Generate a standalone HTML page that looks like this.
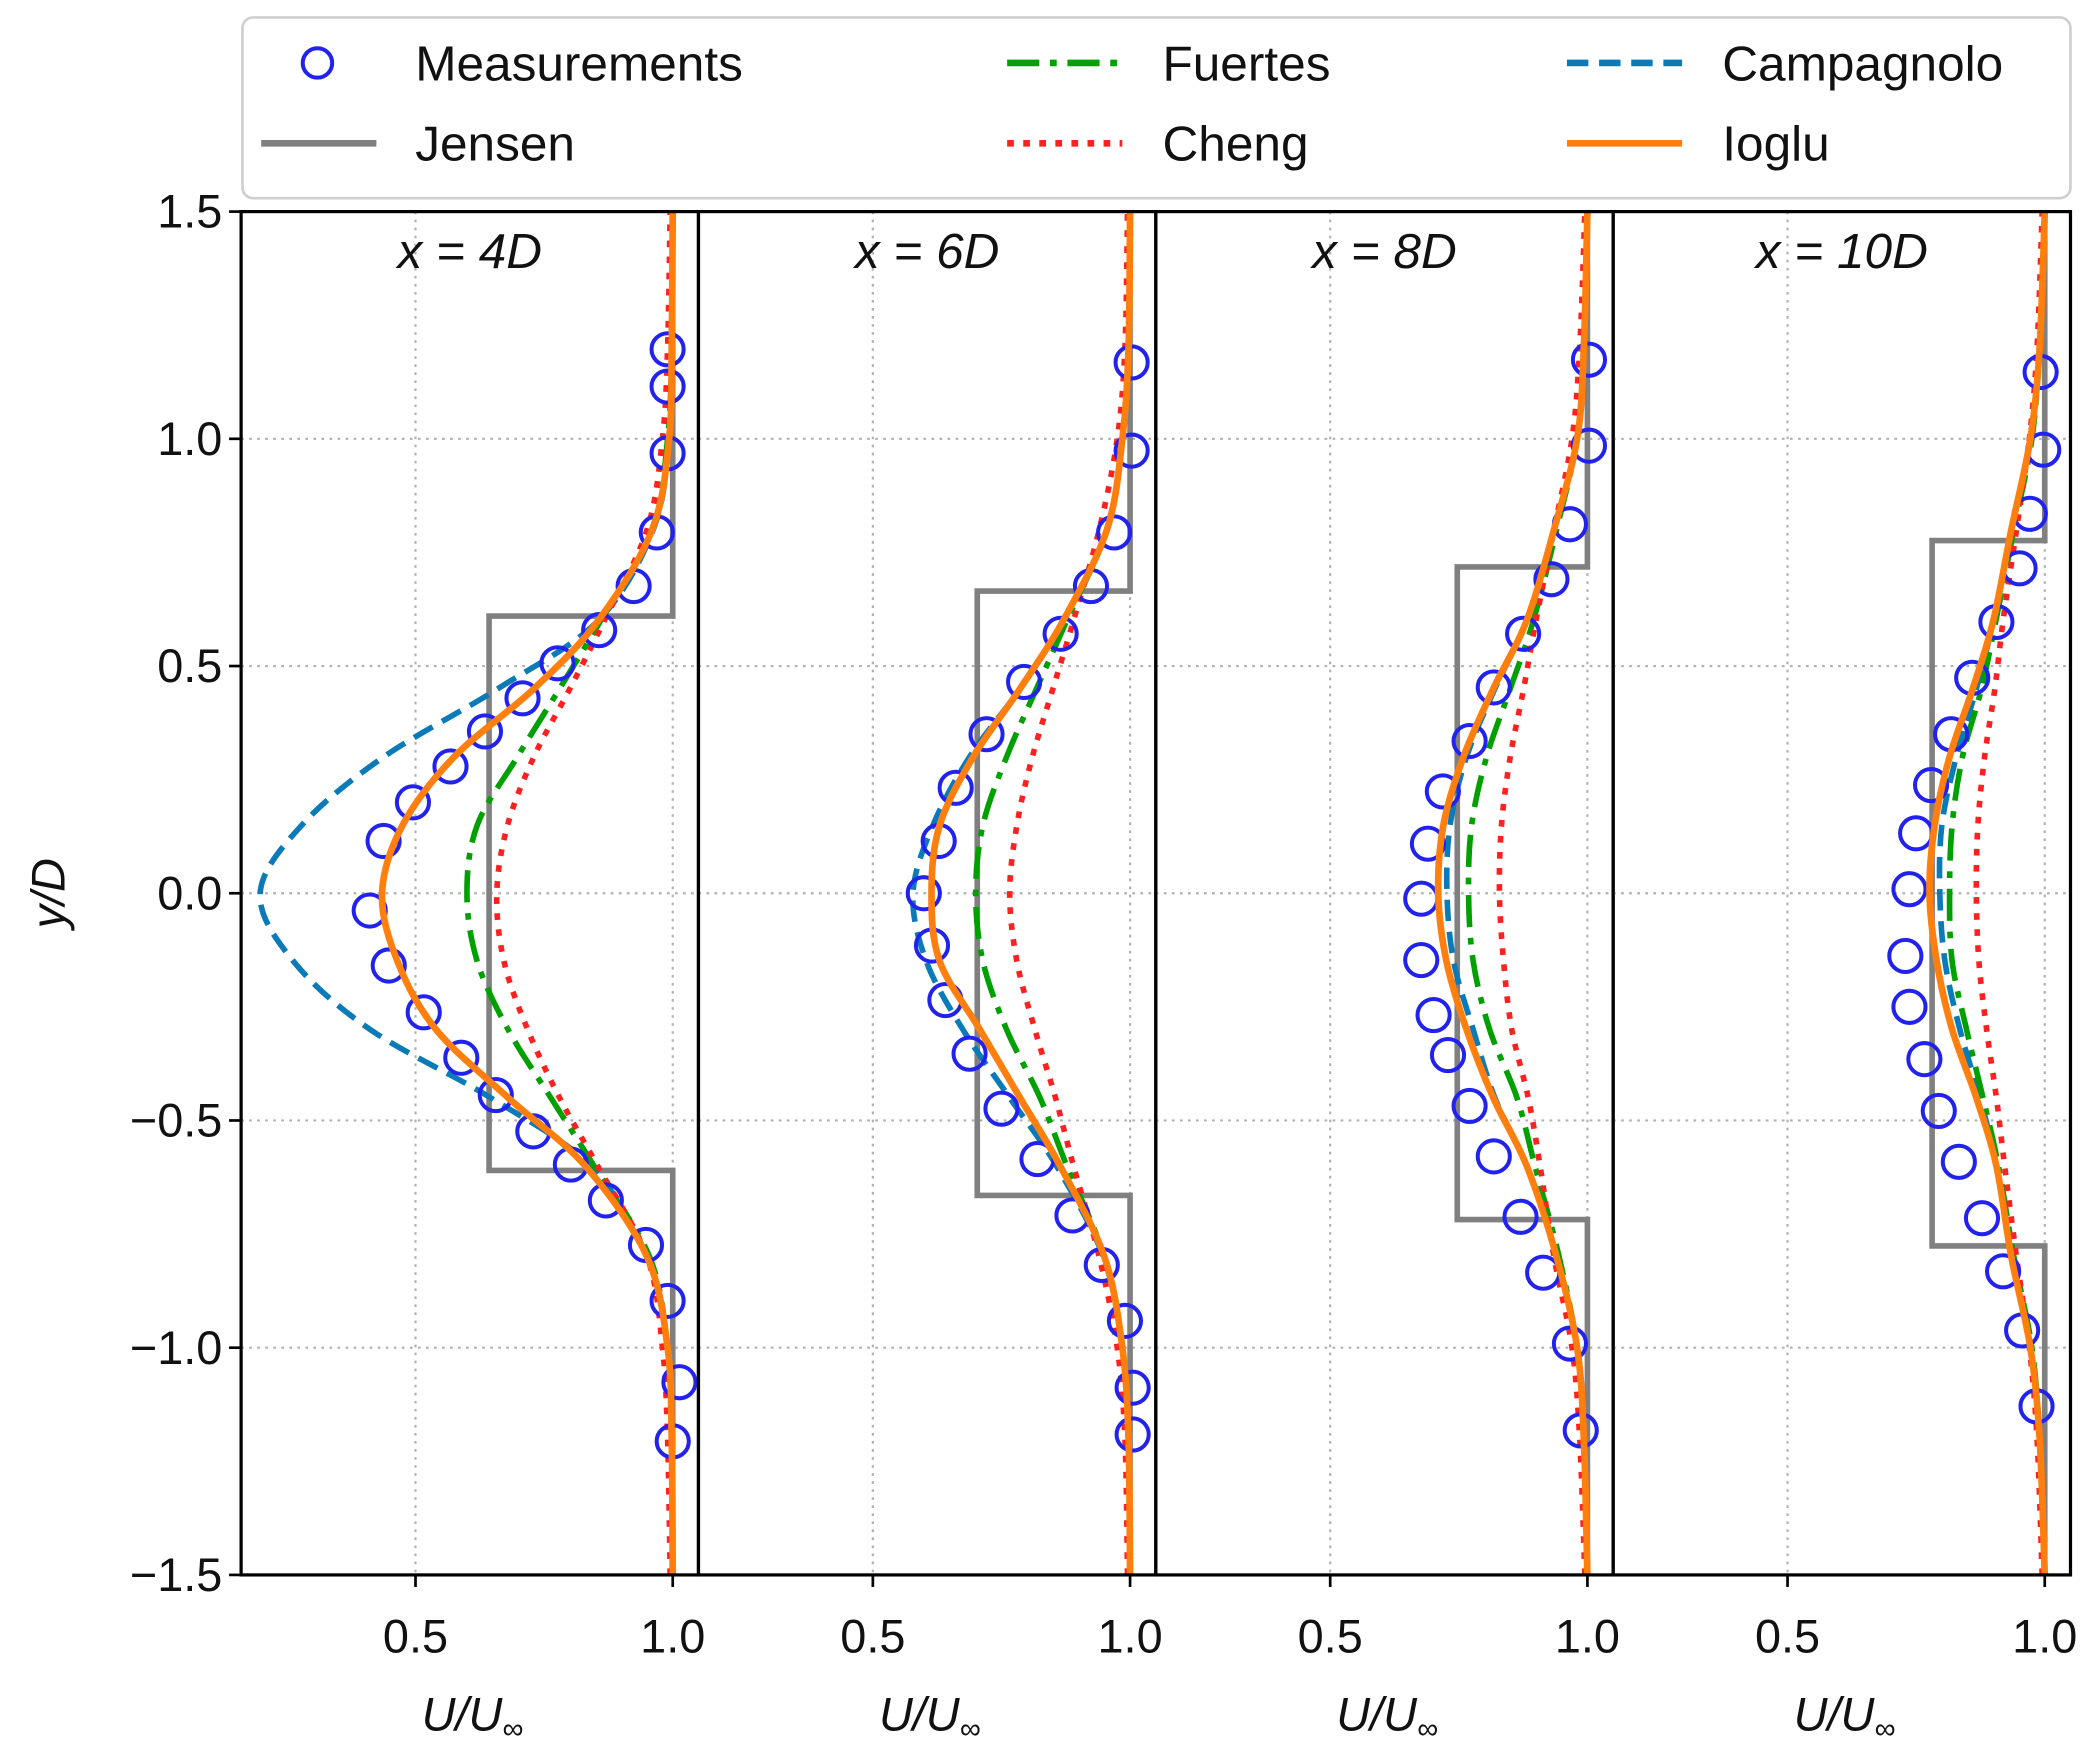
<!DOCTYPE html>
<html><head><meta charset="utf-8"><style>
html,body{margin:0;padding:0;background:#fff}
svg{display:block}
text{font-family:"Liberation Sans","DejaVu Sans",sans-serif;fill:#111}
</style></head><body>
<svg id="chart" width="2100" height="1760" viewBox="0 0 1568 1314.2" xmlns="http://www.w3.org/2000/svg"></svg>
<script>
const NS="http://www.w3.org/2000/svg";
const panelTitles=["4D","6D","8D","10D"];
const yGrid=[-1.5,-1.2,-1.0,-0.8,-0.6,-0.45,-0.3,-0.15,0,0.15,0.3,0.45,0.6,0.8,1.0,1.2,1.5];
const xTicks=[0.5,1.0];
const xTickLabels=["0.5","1.0"];
const yTicks=[-1.5,-1.0,-0.5,0.0,0.5,1.0,1.5];
const yTickLabels=["\u22121.5","\u22121.0","\u22120.5","0.0","0.5","1.0","1.5"];
const yGridLines=[-1.0,-0.5,0,0.5,1.0];
const loglu=[
[1.0,0.998,0.99,0.95,0.83,0.68,0.54,0.465,0.435,0.475,0.575,0.73,0.855,0.96,0.993,0.998,1.0],
[1.0,0.997,0.985,0.95,0.864,0.786,0.708,0.63,0.614,0.63,0.695,0.786,0.87,0.955,0.985,0.997,1.0],
[1.0,0.993,0.98,0.94,0.882,0.817,0.765,0.726,0.71,0.72,0.759,0.817,0.882,0.935,0.98,0.993,1.0],
[1.0,0.99,0.972,0.935,0.906,0.867,0.82,0.79,0.776,0.786,0.815,0.86,0.9,0.935,0.972,0.99,1.0]];
const campagnolo=[
[1.0,0.998,0.99,0.95,0.84,0.646,0.412,0.263,0.198,0.279,0.438,0.66,0.855,0.962,0.993,0.998,1.0],
[1.0,0.997,0.985,0.948,0.857,0.766,0.675,0.604,0.578,0.617,0.688,0.786,0.87,0.955,0.985,0.997,1.0],
[1.0,0.993,0.98,0.94,0.882,0.82,0.778,0.74,0.727,0.733,0.765,0.82,0.882,0.935,0.98,0.993,1.0],
[1.0,0.99,0.972,0.935,0.906,0.874,0.835,0.806,0.796,0.80,0.828,0.867,0.9,0.935,0.972,0.99,1.0]];
const fuertes=[
[1.0,0.998,0.99,0.955,0.847,0.763,0.68,0.62,0.60,0.62,0.698,0.78,0.86,0.96,0.99,0.998,1.0],
[1.0,0.997,0.985,0.95,0.877,0.825,0.76,0.714,0.70,0.714,0.76,0.818,0.877,0.955,0.985,0.997,1.0],
[1.0,0.993,0.98,0.945,0.898,0.863,0.81,0.778,0.769,0.775,0.804,0.85,0.895,0.94,0.98,0.993,1.0],
[1.0,0.99,0.975,0.94,0.91,0.88,0.848,0.82,0.815,0.82,0.84,0.877,0.905,0.94,0.975,0.99,1.0]];
const cheng=[
[0.995,0.99,0.98,0.95,0.854,0.78,0.718,0.672,0.658,0.679,0.73,0.80,0.867,0.95,0.98,0.99,0.995],
[0.995,0.99,0.975,0.94,0.89,0.855,0.815,0.78,0.766,0.78,0.81,0.85,0.89,0.94,0.975,0.99,0.995],
[0.995,0.985,0.97,0.935,0.908,0.885,0.853,0.837,0.829,0.833,0.85,0.876,0.90,0.935,0.97,0.985,0.995],
[0.995,0.985,0.97,0.945,0.922,0.906,0.887,0.872,0.867,0.87,0.883,0.903,0.919,0.945,0.97,0.985,0.995]];
const jensenDeficitU=[0.643,0.703,0.747,0.781];
const jensenHalfWidth=[0.61,0.665,0.718,0.776];
const measU=[
[0.99,0.99,0.99,0.969,0.924,0.857,0.776,0.708,0.635,0.568,0.495,0.438,0.411,0.448,0.516,0.589,0.656,0.729,0.802,0.870,0.948,0.990,1.013,1.0],
[1.003,1.003,0.969,0.924,0.865,0.794,0.721,0.661,0.628,0.599,0.615,0.641,0.688,0.750,0.820,0.888,0.945,0.990,1.005,1.005],
[1.003,1.003,0.966,0.930,0.875,0.818,0.771,0.719,0.690,0.677,0.677,0.701,0.729,0.771,0.818,0.870,0.914,0.966,0.987],
[0.992,0.997,0.971,0.951,0.906,0.859,0.818,0.779,0.750,0.737,0.729,0.737,0.766,0.794,0.833,0.878,0.919,0.956,0.984]];
const measY=[
[1.197,1.115,0.968,0.794,0.676,0.579,0.506,0.429,0.356,0.279,0.200,0.115,-0.038,-0.159,-0.262,-0.362,-0.444,-0.524,-0.597,-0.676,-0.774,-0.897,-1.076,-1.206],
[1.168,0.974,0.794,0.676,0.571,0.465,0.350,0.232,0.115,0.0,-0.115,-0.235,-0.353,-0.474,-0.585,-0.709,-0.818,-0.941,-1.088,-1.191],
[1.174,0.985,0.812,0.691,0.571,0.453,0.335,0.224,0.109,-0.012,-0.147,-0.268,-0.356,-0.468,-0.579,-0.712,-0.835,-0.991,-1.182],
[1.147,0.976,0.835,0.715,0.597,0.474,0.350,0.238,0.132,0.009,-0.138,-0.250,-0.365,-0.479,-0.591,-0.715,-0.832,-0.962,-1.129]];

const svg=document.getElementById('chart');
function el(tag,attrs,parent){const e=document.createElementNS(NS,tag);for(const k in attrs)e.setAttribute(k,attrs[k]);(parent||svg).appendChild(e);return e;}
const PX0=180,PW=341.5,YTOP=158,YBOT=1176,XMIN=0.161,XMAX=1.05;
function sx(p,u){return PX0+p*PW+(u-XMIN)/(XMAX-XMIN)*PW;}
function sy(v){return YBOT-(v+1.5)/3*(YBOT-YTOP);}
function smoothPath(pts){
  let d="M"+pts[0][0].toFixed(2)+","+pts[0][1].toFixed(2);
  for(let i=0;i<pts.length-1;i++){
    const p0=pts[Math.max(0,i-1)],p1=pts[i],p2=pts[i+1],p3=pts[Math.min(pts.length-1,i+2)];
    const c1=[p1[0]+(p2[0]-p0[0])/6,p1[1]+(p2[1]-p0[1])/6];
    const c2=[p2[0]-(p3[0]-p1[0])/6,p2[1]-(p3[1]-p1[1])/6];
    d+=" C"+c1[0].toFixed(2)+","+c1[1].toFixed(2)+" "+c2[0].toFixed(2)+","+c2[1].toFixed(2)+" "+p2[0].toFixed(2)+","+p2[1].toFixed(2);
  }
  return d;
}
const defs=el('defs',{});
for(let p=0;p<4;p++){
  const cp=el('clipPath',{id:'clip'+p},defs);
  el('rect',{x:PX0+p*PW,y:YTOP,width:PW,height:YBOT-YTOP},cp);
}
const lg=el('g',{});


el('rect',{x:181,y:13,width:1365,height:135,rx:8,fill:'#fff',stroke:'#cfcfcf','stroke-width':2},lg);
const legendItems=[
 {name:'Measurements',x:195,y:47,type:'marker'},
 {name:'Jensen',x:195,y:107,type:'line',stroke:'#808080',dash:''},
 {name:'Fuertes',x:752,y:47,type:'line',stroke:'#00a000',dash:'24,8,5,8'},
 {name:'Cheng',x:752,y:107,type:'line',stroke:'#ff2020',dash:'5,7'},
 {name:'Campagnolo',x:1170,y:47,type:'line',stroke:'#0a7ab8',dash:'16,8'},
 {name:'Ioglu',x:1170,y:107,type:'line',stroke:'#ff7f0e',dash:''}];
legendItems.forEach((it,i)=>{
  const g=el('g',{},lg);
  
  
  if(it.type==='marker'){el('circle',{cx:it.x+42,cy:it.y,r:11,fill:'none',stroke:'#2222ee','stroke-width':3},g);}
  else{const a={x1:it.x,y1:it.y,x2:it.x+86,y2:it.y,stroke:it.stroke,'stroke-width':5};if(it.dash)a['stroke-dasharray']=it.dash;el('line',a,g);}
  const t=el('text',{x:it.x+(it.x===195?115:116),y:it.y+13,'font-size':37},g);
  t.textContent=it.name;
});
for(let p=0;p<4;p++){
  const g=el('g',{});
  
  
  const x0=PX0+p*PW;
  xTicks.forEach(v=>{const l=el('line',{x1:sx(p,v),x2:sx(p,v),y1:YTOP,y2:YBOT,stroke:'#b0b0b0','stroke-width':1.6,'stroke-dasharray':'2,4'},g);
    });
  yGridLines.forEach(v=>{const l=el('line',{x1:x0,x2:x0+PW,y1:sy(v),y2:sy(v),stroke:'#b0b0b0','stroke-width':1.6,'stroke-dasharray':'2,4'},g);
    });
  const cg=el('g',{'clip-path':'url(#clip'+p+')'},g);
  const ju=jensenDeficitU[p],jw=jensenHalfWidth[p];
  const jpts=[[1,-1.5],[1,-jw],[ju,-jw],[ju,jw],[1,jw],[1,1.5]].map(q=>sx(p,q[0]).toFixed(2)+","+sy(q[1]).toFixed(2)).join(" ");
  const jl=el('polyline',{points:jpts,fill:'none',stroke:'#808080','stroke-width':4.2},cg);
  
  const series=[[campagnolo,'#0a7ab8','16,8',4.2,'campagnolo-line'],[fuertes,'#00a000','24,8,5,8',4.2,'fuertes-line'],[cheng,'#ff2020','5,7',4.2,'cheng-line']];
  series.forEach(s=>{
    const pts=yGrid.map((y,i)=>[sx(p,s[0][p][i]),sy(y)]);
    const path=el('path',{d:smoothPath(pts),fill:'none',stroke:s[1],'stroke-width':s[3],'stroke-dasharray':s[2]},cg);
    
  });
  measU[p].forEach((u,i)=>{
    const c=el('circle',{cx:sx(p,u),cy:sy(measY[p][i]),r:12,fill:'none',stroke:'#2222ee','stroke-width':3},cg);
    
  });
  const lpts=yGrid.map((y,i)=>[sx(p,loglu[p][i]),sy(y)]);
  const lp=el('path',{d:smoothPath(lpts),fill:'none',stroke:'#ff7f0e','stroke-width':5},cg);
  
  el('rect',{x:x0,y:YTOP,width:PW,height:YBOT-YTOP,fill:'none',stroke:'#000','stroke-width':2.4},g);
  const t=el('text',{x:x0+PW/2,y:200,'font-size':37,'text-anchor':'middle','font-style':'italic'},g);
  
  t.textContent='x = '+panelTitles[p].replace('D','');
  const ts=el('tspan',{},t);ts.textContent='D';
  xTicks.forEach((v,i)=>{
    el('line',{x1:sx(p,v),x2:sx(p,v),y1:YBOT,y2:YBOT+9,stroke:'#000','stroke-width':2},g);
    const tl=el('text',{x:sx(p,v),y:1234,'font-size':35,'text-anchor':'middle'},g);
    
    tl.textContent=xTickLabels[i];
  });
  const xl=el('text',{x:x0+PW/2+2,y:1292,'font-size':35,'text-anchor':'middle','font-style':'italic'},g);
  
  xl.textContent='U/U';
  const sub=el('tspan',{'font-size':22,dy:6},xl);sub.textContent='\u221e';
}
yTicks.forEach((v,i)=>{
  el('line',{x1:PX0-9,x2:PX0,y1:sy(v),y2:sy(v),stroke:'#000','stroke-width':2});
  const t=el('text',{x:PX0-14,y:sy(v)+12,'font-size':35,'text-anchor':'end'});
  
  t.textContent=yTickLabels[i];
});
const yl=el('text',{x:0,y:0,'font-size':35,'text-anchor':'middle','font-style':'italic',transform:'translate(48,667) rotate(-90)'});

yl.textContent='y/D';
</script>
</body></html>
